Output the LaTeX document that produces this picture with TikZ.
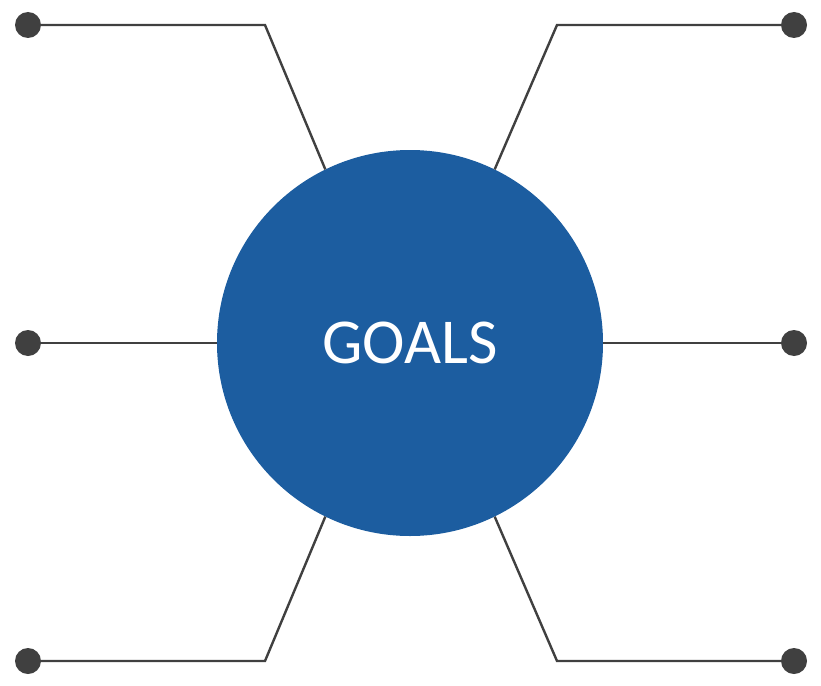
\documentclass[tikz,border=0pt]{standalone}
\usepackage{fontspec}
\setsansfont{Carlito}
\definecolor{goalblue}{HTML}{1C5DA0}
\definecolor{wiregray}{HTML}{404040}
\begin{document}
\begin{tikzpicture}[x=1pt,y=-1pt,
  dot/.style={circle,fill=wiregray,inner sep=0,minimum size=26pt},
  wire/.style={draw=wiregray,line width=2.4pt}]
\useasboundingbox (0,0) rectangle (821,685);
\node[circle,fill=goalblue,inner sep=0,minimum size=386pt,text=white,font=\sffamily\fontsize{64}{64}\selectfont](G)at(410,343){GOALS};
% left side
\node[dot](L1)at(28,25){};
\node[dot](L2)at(28,343){};
\node[dot](L3)at(28,661){};
\coordinate(KL1)at(265,25);
\coordinate(KL3)at(265,661);
% right side
\node[dot](R1)at(794,25){};
\node[dot](R2)at(794,343){};
\node[dot](R3)at(794,661){};
\coordinate(KR1)at(557,25);
\coordinate(KR3)at(557,661);
\draw[wire](L1)--(KL1)--(G.116);
\draw[wire](L2)--(G.west);
\draw[wire](L3)--(KL3)--(G.-116);
\draw[wire](R1)--(KR1)--(G.64);
\draw[wire](R2)--(G.east);
\draw[wire](R3)--(KR3)--(G.-64);
\end{tikzpicture}
\end{document}
